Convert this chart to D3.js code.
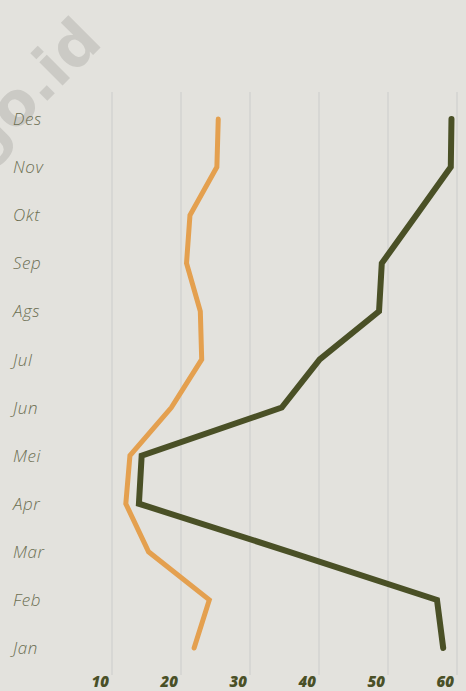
<!DOCTYPE html>
<html>
<head>
<meta charset="utf-8">
<script src="https://cdn.jsdelivr.net/npm/d3@7"></script>
<style>
  html, body { margin: 0; padding: 0; background: #e3e2dd; }
  svg { display: block; }
  .month-label { font-family: "Open Sans", sans-serif; font-style: italic; font-weight: 300; font-size: 17px; letter-spacing: 0.6px; fill: #6c6f52; }
  .tick-label { font-family: "Open Sans", sans-serif; font-style: italic; font-weight: 800; font-size: 15px; fill: #4a5027; }
  .watermark { font-family: "DejaVu Sans", sans-serif; font-weight: bold; font-size: 60px; fill: #cbcac5; }
</style>
</head>
<body>
<svg id="svg" width="466" height="691"></svg>
<script>
var months = ["Jan", "Feb", "Mar", "Apr", "Mei", "Jun", "Jul", "Ags", "Sep", "Okt", "Nov", "Des"];
var orangeValues = [21.9, 24.1, 15.3, 12.0, 12.6, 18.6, 23.0, 22.8, 20.8, 21.3, 25.2, 25.4];
var greenValues = [58.0, 57.1, 35.7, 13.9, 14.3, 34.6, 40.1, 48.7, 49.1, 54.1, 59.1, 59.2];
var xTicks = [10, 20, 30, 40, 50, 60];

var svg = d3.select("#svg");

// background
svg.append("rect")
    .attr("width", 466)
    .attr("height", 691)
    .attr("fill", "#e3e2dd");

// watermark (clipped at the left edge like the original)
svg.append("text")
    .attr("class", "watermark")
    .attr("text-anchor", "end")
    .attr("transform", "translate(104,44) rotate(-45)")
    .text("go.id");

var xScale = d3.scaleLinear().domain([10, 60]).range([112, 457]);
var yScale = d3.scalePoint().domain(months).range([648, 119]);

// grid lines
svg.selectAll("line.grid")
    .data(xTicks)
    .enter()
    .append("line")
    .attr("class", "grid")
    .attr("x1", function(d) { return xScale(d); })
    .attr("x2", function(d) { return xScale(d); })
    .attr("y1", 92)
    .attr("y2", 675)
    .attr("stroke", "#d7d7d4")
    .attr("stroke-width", 2);

// x tick labels
svg.selectAll("text.tick-label")
    .data(xTicks)
    .enter()
    .append("text")
    .attr("class", "tick-label")
    .attr("x", function(d) { return xScale(d) - 3; })
    .attr("y", 687)
    .attr("text-anchor", "end")
    .text(function(d) { return d; });

// month labels
svg.selectAll("text.month-label")
    .data(months)
    .enter()
    .append("text")
    .attr("class", "month-label")
    .attr("x", 13)
    .attr("y", function(d) { return yScale(d); })
    .attr("dy", "0.36em")
    .text(function(d) { return d; });

var line = d3.line()
    .x(function(d) { return xScale(d.v); })
    .y(function(d) { return yScale(d.m); });

var makeData = function(values) {
    return months.map(function(m, i) { return { m: m, v: values[i] }; });
};

svg.append("path")
    .datum(makeData(orangeValues))
    .attr("d", line)
    .attr("fill", "none")
    .attr("stroke", "#e4a04f")
    .attr("stroke-width", 5)
    .attr("stroke-linecap", "round")
    .attr("stroke-linejoin", "miter");

svg.append("path")
    .datum(makeData(greenValues))
    .attr("d", line)
    .attr("fill", "none")
    .attr("stroke", "#4a5026")
    .attr("stroke-width", 6)
    .attr("stroke-linecap", "round")
    .attr("stroke-linejoin", "miter");
</script>
</body>
</html>
